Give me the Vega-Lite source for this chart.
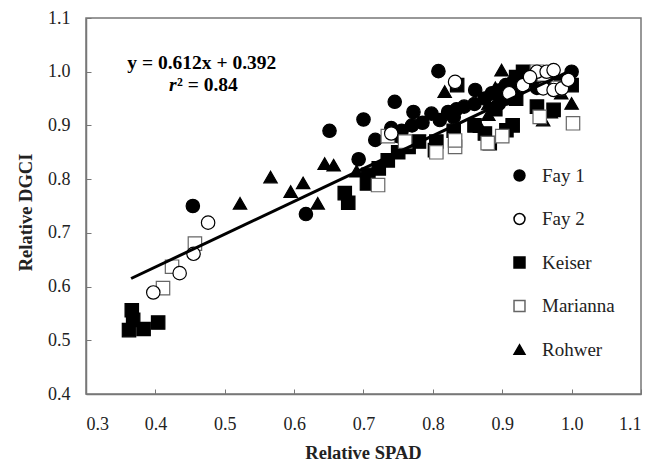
{
  "$schema": "https://vega.github.io/schema/vega-lite/v6.json",
  "width": 555,
  "height": 376,
  "autosize": "none",
  "padding": {"left": 86, "top": 18, "right": 19, "bottom": 73},
  "background": "white",
  "config": {
    "view": {"stroke": "#777777", "strokeWidth": 1.5},
    "axis": {
      "grid": false,
      "domainColor": "#777777",
      "domainWidth": 1.5,
      "tickColor": "#777777",
      "tickWidth": 1,
      "tickSize": -5,
      "labelFont": "Liberation Serif",
      "labelFontSize": 18,
      "labelColor": "#222222",
      "titleFont": "Liberation Serif",
      "titleFontSize": 18.5,
      "titleFontWeight": "bold",
      "titleColor": "#222222"
    },
    "legend": {
      "orient": "none",
      "legendX": 424,
      "legendY": 148,
      "padding": 0,
      "labelFont": "Liberation Serif",
      "labelFontSize": 19,
      "labelColor": "#222222",
      "symbolSize": 120,
      "symbolStrokeWidth": 1.5,
      "labelOffset": 13,
      "rowPadding": 23.5
    }
  },
  "datasets": {
    "pts": [
      {"site": "Keiser", "spad": 0.366, "dgci": 0.556},
      {"site": "Keiser", "spad": 0.368, "dgci": 0.538},
      {"site": "Keiser", "spad": 0.362, "dgci": 0.519},
      {"site": "Keiser", "spad": 0.383, "dgci": 0.521},
      {"site": "Keiser", "spad": 0.404, "dgci": 0.533},
      {"site": "Keiser", "spad": 0.673, "dgci": 0.774},
      {"site": "Keiser", "spad": 0.678, "dgci": 0.756},
      {"site": "Keiser", "spad": 0.705, "dgci": 0.792},
      {"site": "Keiser", "spad": 0.707, "dgci": 0.808},
      {"site": "Keiser", "spad": 0.722, "dgci": 0.82},
      {"site": "Keiser", "spad": 0.735, "dgci": 0.835},
      {"site": "Keiser", "spad": 0.75, "dgci": 0.85},
      {"site": "Keiser", "spad": 0.765, "dgci": 0.86},
      {"site": "Keiser", "spad": 0.78, "dgci": 0.87},
      {"site": "Keiser", "spad": 0.803, "dgci": 0.854},
      {"site": "Keiser", "spad": 0.805, "dgci": 0.87},
      {"site": "Keiser", "spad": 0.83, "dgci": 0.89},
      {"site": "Keiser", "spad": 0.835, "dgci": 0.975},
      {"site": "Keiser", "spad": 0.86, "dgci": 0.9},
      {"site": "Keiser", "spad": 0.882, "dgci": 0.867},
      {"site": "Keiser", "spad": 0.906, "dgci": 0.891},
      {"site": "Keiser", "spad": 0.915, "dgci": 0.9},
      {"site": "Keiser", "spad": 0.92, "dgci": 0.95},
      {"site": "Keiser", "spad": 0.95, "dgci": 0.935},
      {"site": "Keiser", "spad": 0.974, "dgci": 0.929},
      {"site": "Keiser", "spad": 1.0, "dgci": 0.975},
      {"site": "Keiser", "spad": 0.93, "dgci": 1.0},
      {"site": "Keiser", "spad": 0.92, "dgci": 0.99},
      {"site": "Keiser", "spad": 0.96, "dgci": 0.99},
      {"site": "Keiser", "spad": 0.9, "dgci": 0.96},
      {"site": "Keiser", "spad": 0.875, "dgci": 0.885},
      {"site": "Keiser", "spad": 0.985, "dgci": 0.98},
      {"site": "Keiser", "spad": 0.89, "dgci": 0.93},
      {"site": "Rohwer", "spad": 0.522, "dgci": 0.755},
      {"site": "Rohwer", "spad": 0.566, "dgci": 0.804},
      {"site": "Rohwer", "spad": 0.595, "dgci": 0.777},
      {"site": "Rohwer", "spad": 0.613, "dgci": 0.793},
      {"site": "Rohwer", "spad": 0.634, "dgci": 0.755},
      {"site": "Rohwer", "spad": 0.644, "dgci": 0.829},
      {"site": "Rohwer", "spad": 0.657, "dgci": 0.826},
      {"site": "Rohwer", "spad": 0.69, "dgci": 0.815},
      {"site": "Rohwer", "spad": 0.817, "dgci": 0.963},
      {"site": "Rohwer", "spad": 0.899, "dgci": 1.003},
      {"site": "Rohwer", "spad": 0.868, "dgci": 0.898},
      {"site": "Rohwer", "spad": 0.959, "dgci": 0.91},
      {"site": "Rohwer", "spad": 1.0, "dgci": 0.941},
      {"site": "Rohwer", "spad": 0.88, "dgci": 0.94},
      {"site": "Rohwer", "spad": 0.89, "dgci": 0.97},
      {"site": "Rohwer", "spad": 0.91, "dgci": 0.955},
      {"site": "Rohwer", "spad": 0.93, "dgci": 0.985},
      {"site": "Rohwer", "spad": 0.97, "dgci": 0.925},
      {"site": "Rohwer", "spad": 0.88, "dgci": 0.92},
      {"site": "Rohwer", "spad": 0.985, "dgci": 0.96},
      {"site": "Fay 1", "spad": 0.454, "dgci": 0.75},
      {"site": "Fay 1", "spad": 0.617, "dgci": 0.735},
      {"site": "Fay 1", "spad": 0.651, "dgci": 0.89},
      {"site": "Fay 1", "spad": 0.693, "dgci": 0.837},
      {"site": "Fay 1", "spad": 0.7, "dgci": 0.911},
      {"site": "Fay 1", "spad": 0.717, "dgci": 0.873},
      {"site": "Fay 1", "spad": 0.745, "dgci": 0.944},
      {"site": "Fay 1", "spad": 0.772, "dgci": 0.925},
      {"site": "Fay 1", "spad": 0.798, "dgci": 0.922},
      {"site": "Fay 1", "spad": 0.808, "dgci": 1.001},
      {"site": "Fay 1", "spad": 0.822, "dgci": 0.925},
      {"site": "Fay 1", "spad": 0.834, "dgci": 0.93},
      {"site": "Fay 1", "spad": 0.861, "dgci": 0.966},
      {"site": "Fay 1", "spad": 0.74, "dgci": 0.895},
      {"site": "Fay 1", "spad": 0.755, "dgci": 0.89},
      {"site": "Fay 1", "spad": 0.77, "dgci": 0.9},
      {"site": "Fay 1", "spad": 0.785, "dgci": 0.905},
      {"site": "Fay 1", "spad": 0.81, "dgci": 0.91},
      {"site": "Fay 1", "spad": 0.83, "dgci": 0.915},
      {"site": "Fay 1", "spad": 0.845, "dgci": 0.935},
      {"site": "Fay 1", "spad": 0.86, "dgci": 0.94},
      {"site": "Fay 1", "spad": 0.875, "dgci": 0.95},
      {"site": "Fay 1", "spad": 0.885, "dgci": 0.96},
      {"site": "Fay 1", "spad": 0.895, "dgci": 0.965},
      {"site": "Fay 1", "spad": 0.905, "dgci": 0.975},
      {"site": "Fay 1", "spad": 0.915, "dgci": 0.98},
      {"site": "Fay 1", "spad": 0.925, "dgci": 0.99},
      {"site": "Fay 1", "spad": 0.94, "dgci": 0.985},
      {"site": "Fay 1", "spad": 0.97, "dgci": 1.0},
      {"site": "Fay 1", "spad": 1.0, "dgci": 1.0},
      {"site": "Fay 1", "spad": 0.895, "dgci": 0.94},
      {"site": "Fay 1", "spad": 0.905, "dgci": 0.95},
      {"site": "Fay 1", "spad": 0.92, "dgci": 0.96},
      {"site": "Fay 1", "spad": 0.95, "dgci": 0.97},
      {"site": "Fay 1", "spad": 0.75, "dgci": 0.88},
      {"site": "Marianna", "spad": 0.411, "dgci": 0.597},
      {"site": "Marianna", "spad": 0.424, "dgci": 0.637},
      {"site": "Marianna", "spad": 0.457, "dgci": 0.68},
      {"site": "Marianna", "spad": 0.721, "dgci": 0.789},
      {"site": "Marianna", "spad": 0.735, "dgci": 0.88},
      {"site": "Marianna", "spad": 0.76, "dgci": 0.87},
      {"site": "Marianna", "spad": 0.832, "dgci": 0.86},
      {"site": "Marianna", "spad": 0.832, "dgci": 0.872},
      {"site": "Marianna", "spad": 0.879, "dgci": 0.867},
      {"site": "Marianna", "spad": 0.954, "dgci": 0.916},
      {"site": "Marianna", "spad": 1.002, "dgci": 0.904},
      {"site": "Marianna", "spad": 0.95, "dgci": 1.0},
      {"site": "Marianna", "spad": 0.98, "dgci": 0.97},
      {"site": "Marianna", "spad": 0.805, "dgci": 0.85},
      {"site": "Marianna", "spad": 0.9, "dgci": 0.88},
      {"site": "Marianna", "spad": 0.96, "dgci": 0.995},
      {"site": "Fay 2", "spad": 0.397, "dgci": 0.589},
      {"site": "Fay 2", "spad": 0.435, "dgci": 0.625},
      {"site": "Fay 2", "spad": 0.455, "dgci": 0.661},
      {"site": "Fay 2", "spad": 0.476, "dgci": 0.719},
      {"site": "Fay 2", "spad": 0.74, "dgci": 0.885},
      {"site": "Fay 2", "spad": 0.832, "dgci": 0.981},
      {"site": "Fay 2", "spad": 0.95, "dgci": 1.0},
      {"site": "Fay 2", "spad": 0.964, "dgci": 1.0},
      {"site": "Fay 2", "spad": 0.974, "dgci": 1.003},
      {"site": "Fay 2", "spad": 0.959, "dgci": 0.969},
      {"site": "Fay 2", "spad": 0.974, "dgci": 0.966},
      {"site": "Fay 2", "spad": 0.986, "dgci": 0.969},
      {"site": "Fay 2", "spad": 0.93, "dgci": 0.975},
      {"site": "Fay 2", "spad": 0.94, "dgci": 0.99},
      {"site": "Fay 2", "spad": 0.91, "dgci": 0.96},
      {"site": "Fay 2", "spad": 0.995, "dgci": 0.985}
    ],
    "fit": [
      {"spad": 0.365, "dgci": 0.615},
      {"spad": 1.0, "dgci": 1.003}
    ],
    "eq": [
      {"spad": 0.467, "dgci": 1.016, "t": "y = 0.612x + 0.392"}
    ],
    "r": [
      {"spad": 0.4196, "dgci": 0.975, "t": "r"}
    ],
    "r2": [
      {"spad": 0.4312, "dgci": 0.975, "t": "² = 0.84"}
    ]
  },
  "layer": [
    {
      "data": {"name": "pts"},
      "mark": {"type": "point", "filled": true, "size": 180, "strokeWidth": 1.2, "opacity": 1},
      "encoding": {
        "x": {
          "field": "spad", "type": "quantitative",
          "scale": {"domain": [0.3, 1.1], "nice": false, "zero": false},
          "axis": {"values": [0.3, 0.4, 0.5, 0.6, 0.7, 0.8, 0.9, 1.0, 1.1], "format": ".1f", "labelPadding": 26, "title": "Relative SPAD", "titleX": 277, "titleY": 58, "titleBaseline": "middle"}
        },
        "y": {
          "field": "dgci", "type": "quantitative",
          "scale": {"domain": [0.4, 1.1], "nice": false, "zero": false},
          "axis": {"values": [0.4, 0.5, 0.6, 0.7, 0.8, 0.9, 1.0, 1.1], "format": ".1f", "labelPadding": 21, "title": "Relative DGCI", "titleX": -61, "titleY": 194, "titleBaseline": "middle", "titleAngle": -90}
        },
        "shape": {
          "field": "site", "type": "nominal", "title": null,
          "scale": {"domain": ["Fay 1", "Fay 2", "Keiser", "Marianna", "Rohwer"], "range": ["circle", "circle", "square", "square", "triangle-up"]}
        },
        "fill": {
          "field": "site", "type": "nominal", "title": null,
          "scale": {"domain": ["Fay 1", "Fay 2", "Keiser", "Marianna", "Rohwer"], "range": ["#000000", "#ffffff", "#000000", "#ffffff", "#000000"]}
        },
        "stroke": {
          "field": "site", "type": "nominal", "title": null,
          "scale": {"domain": ["Fay 1", "Fay 2", "Keiser", "Marianna", "Rohwer"], "range": ["#000000", "#000000", "#000000", "#666666", "#000000"]}
        }
      }
    },
    {
      "data": {"name": "fit"},
      "mark": {"type": "line", "color": "#000000", "strokeWidth": 3},
      "encoding": {
        "x": {"field": "spad", "type": "quantitative"},
        "y": {"field": "dgci", "type": "quantitative"}
      }
    },
    {
      "data": {"name": "eq"},
      "mark": {"type": "text", "font": "Liberation Serif", "fontSize": 19.5, "fontWeight": "bold", "color": "#000000", "align": "center", "baseline": "middle"},
      "encoding": {
        "x": {"field": "spad", "type": "quantitative"},
        "y": {"field": "dgci", "type": "quantitative"},
        "text": {"field": "t"}
      }
    },
    {
      "data": {"name": "r"},
      "mark": {"type": "text", "font": "Liberation Serif", "fontSize": 19.5, "fontWeight": "bold", "fontStyle": "italic", "color": "#000000", "align": "left", "baseline": "middle"},
      "encoding": {
        "x": {"field": "spad", "type": "quantitative"},
        "y": {"field": "dgci", "type": "quantitative"},
        "text": {"field": "t"}
      }
    },
    {
      "data": {"name": "r2"},
      "mark": {"type": "text", "font": "Liberation Serif", "fontSize": 19.5, "fontWeight": "bold", "color": "#000000", "align": "left", "baseline": "middle"},
      "encoding": {
        "x": {"field": "spad", "type": "quantitative"},
        "y": {"field": "dgci", "type": "quantitative"},
        "text": {"field": "t"}
      }
    }
  ]
}
